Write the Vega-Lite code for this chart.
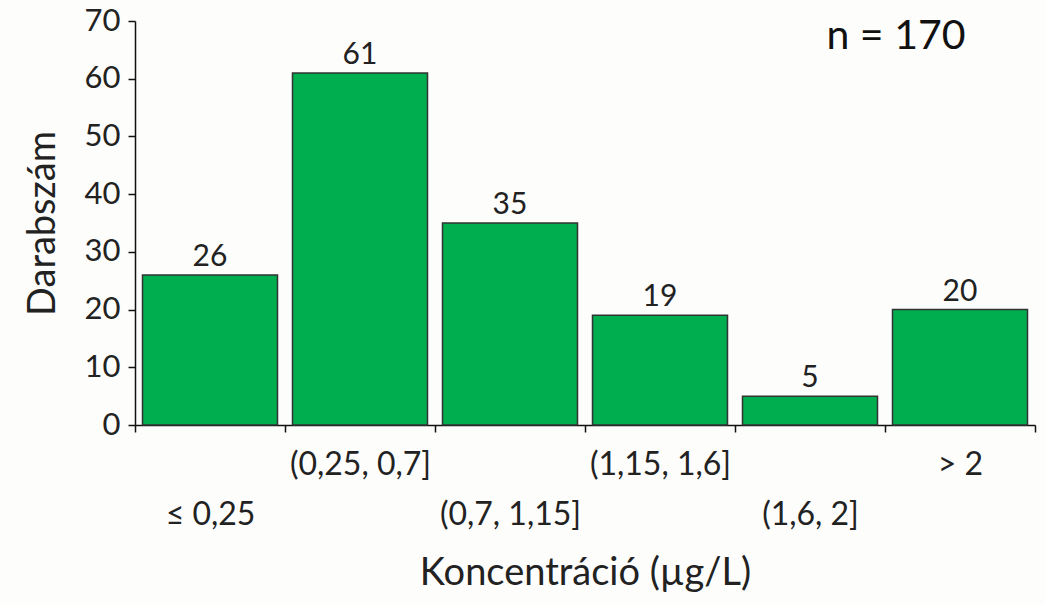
{
  "$schema": "https://vega.github.io/schema/vega-lite/v6.json",
  "autosize": {"type": "none"},
  "width": 900,
  "height": 404,
  "padding": {"left": 135, "top": 21, "right": 10, "bottom": 179},
  "background": "#fdfdfc",
  "config": {
    "view": {"stroke": null},
    "font": "Lato",
    "axis": {"labelFont": "Lato", "titleFont": "Lato", "labelColor": "#222222", "titleColor": "#222222", "titleFontWeight": "normal", "domainColor": "#111111", "tickColor": "#111111", "domainWidth": 1.5, "tickWidth": 1.5, "grid": false}
  },
  "data": {
    "values": [
      {"bin": "≤ 0,25", "count": 26},
      {"bin": "(0,25, 0,7]", "count": 61},
      {"bin": "(0,7, 1,15]", "count": 35},
      {"bin": "(1,15, 1,6]", "count": 19},
      {"bin": "(1,6, 2]", "count": 5},
      {"bin": "> 2", "count": 20}
    ]
  },
  "encoding": {
    "x": {
      "field": "bin",
      "type": "nominal",
      "sort": null,
      "scale": {"paddingInner": 0, "paddingOuter": 0},
      "axis": {
        "title": "Koncentráció (µg/L)",
        "titleFontSize": 38,
        "titlePadding": 24,
        "labelAngle": 0,
        "labelFontSize": 32,
        "labelBaseline": "top",
        "labelLineHeight": 50,
        "labelPadding": 17,
        "tickBand": "extent",
        "tickSize": 7,
        "labelExpr": "indexof(['(0,25, 0,7]','(1,15, 1,6]','> 2'], datum.value) >= 0 ? [datum.label, ' '] : [' ', datum.label]"
      }
    },
    "y": {
      "field": "count",
      "type": "quantitative",
      "scale": {"domain": [0, 70], "nice": false},
      "axis": {
        "title": "Darabszám",
        "titleFontSize": 38,
        "titlePadding": 22,
        "labelFontSize": 31,
        "labelPadding": 8,
        "tickSize": 7,
        "values": [0, 10, 20, 30, 40, 50, 60, 70]
      }
    }
  },
  "layer": [
    {
      "mark": {"type": "bar", "color": "#00ad4f", "stroke": "#333333", "strokeWidth": 1.5, "width": {"band": 0.9}}
    },
    {
      "mark": {"type": "text", "fontSize": 30, "baseline": "bottom", "dy": -3, "color": "#222222", "font": "Lato"},
      "encoding": {"text": {"field": "count", "type": "quantitative"}}
    },
    {
      "data": {"values": [{"bin": "> 2", "pos": 67.3, "label": "n = 170"}]},
      "mark": {"type": "text", "fontSize": 41, "align": "center", "baseline": "middle", "color": "#111111", "font": "Lato", "dx": -64},
      "encoding": {
        "x": {"field": "bin", "type": "nominal"},
        "y": {"field": "pos", "type": "quantitative"},
        "text": {"field": "label", "type": "nominal"}
      }
    }
  ]
}
